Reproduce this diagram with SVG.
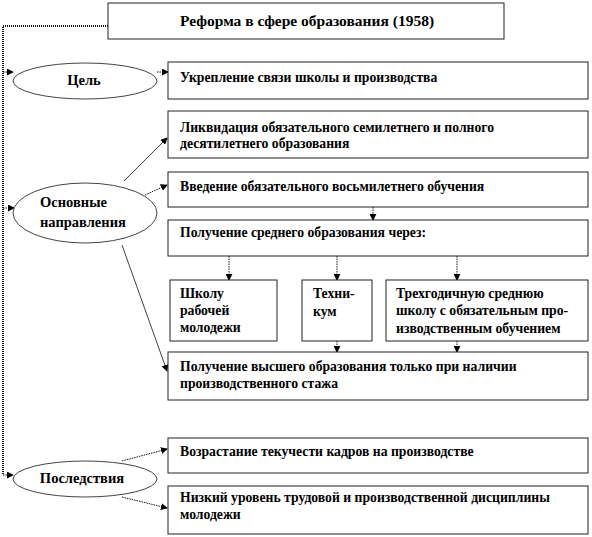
<svg xmlns="http://www.w3.org/2000/svg" width="592" height="537" viewBox="0 0 592 537">
<style>
.box{fill:#fff;stroke:#222;stroke-width:1}
.ell{fill:#fff;stroke:#444;stroke-width:1}
text{font-family:"Liberation Serif","Times New Roman",serif;font-weight:bold;font-size:13.7px;fill:#000}
.t{font-size:15.5px}
.e{font-size:14.5px}
.c{fill:none;stroke:#111;stroke-width:1;stroke-dasharray:1.5 1}
.s{fill:none;stroke:#111;stroke-width:0.8}
.v{fill:none;stroke:#111;stroke-width:2;stroke-dasharray:1 1}
</style>
<defs>
<marker id="a" viewBox="0 0 8 8" refX="7" refY="4" markerWidth="7" markerHeight="7" orient="auto" markerUnits="userSpaceOnUse">
<path d="M0,0 L8,4 L0,8 Z" fill="#000"/>
</marker>
</defs>
<g id="connectors">
<polyline class="v" points="108,26 3,26 3,475"/>
<line class="c" x1="3" y1="72" x2="13" y2="72" marker-end="url(#a)"/>
<line class="c" x1="3" y1="208" x2="14" y2="208" marker-end="url(#a)"/>
<line class="c" x1="3" y1="475" x2="13" y2="475" marker-end="url(#a)"/>
<line class="c" x1="157" y1="72" x2="168" y2="72" marker-end="url(#a)"/>
<line class="s" x1="124" y1="181" x2="167" y2="138" marker-end="url(#a)"/>
<line class="c" x1="145" y1="195" x2="167" y2="185" marker-end="url(#a)"/>
<line class="s" x1="122" y1="245" x2="167" y2="371" marker-end="url(#a)"/>
<line class="c" x1="373" y1="207" x2="373" y2="220" marker-end="url(#a)"/>
<line class="c" x1="229" y1="256" x2="229" y2="280" marker-end="url(#a)"/>
<line class="c" x1="337" y1="256" x2="337" y2="280" marker-end="url(#a)"/>
<line class="c" x1="457" y1="256" x2="457" y2="280" marker-end="url(#a)"/>
<line class="c" x1="337" y1="341" x2="337" y2="352" marker-end="url(#a)"/>
<line class="c" x1="457" y1="341" x2="457" y2="352" marker-end="url(#a)"/>
<line class="c" x1="122" y1="461" x2="167" y2="449" marker-end="url(#a)"/>
<line class="c" x1="122" y1="497" x2="167" y2="508" marker-end="url(#a)"/>
</g>
<g id="title">
<rect class="box" x="108" y="3" width="396" height="36"/>
<text class="t" x="307" y="26" text-anchor="middle">Реформа в сфере образования (1958)</text>
</g>
<g id="goal">
<ellipse class="ell" cx="85" cy="81" rx="72" ry="18"/>
<text class="e" x="84" y="85" text-anchor="middle">Цель</text>
</g>
<g id="directions">
<ellipse class="ell" cx="85" cy="213" rx="72" ry="30"/>
<text class="e" x="40" y="207">Основные</text>
<text class="e" x="40" y="227">направления</text>
</g>
<g id="consequences">
<ellipse class="ell" cx="85" cy="479" rx="72" ry="18"/>
<text class="e" x="82" y="483" text-anchor="middle">Последствия</text>
</g>
<g id="b-strengthen">
<rect class="box" x="168" y="62" width="420" height="37"/>
<text x="180" y="82">Укрепление связи школы и производства</text>
</g>
<g id="b-liquidation">
<rect class="box" x="168" y="111" width="420" height="47"/>
<text x="180" y="132">Ликвидация  обязательного семилетнего и полного</text>
<text x="180" y="148">десятилетнего образования</text>
</g>
<g id="b-eight">
<rect class="box" x="168" y="172" width="420" height="35"/>
<text x="180" y="191">Введение обязательного восьмилетнего обучения</text>
</g>
<g id="b-secondary">
<rect class="box" x="168" y="220" width="420" height="36"/>
<text x="180" y="237">Получение среднего образования через:</text>
</g>
<g id="b-school">
<rect class="box" x="170" y="280" width="107" height="61"/>
<text x="180" y="298">Школу</text>
<text x="180" y="315">рабочей</text>
<text x="180" y="332">молодежи</text>
</g>
<g id="b-technikum">
<rect class="box" x="302" y="280" width="70" height="61"/>
<text x="313" y="298">Техни-</text>
<text x="313" y="316">кум</text>
</g>
<g id="b-threeyear">
<rect class="box" x="386" y="280" width="202" height="61"/>
<text x="396" y="298">Трехгодичную  среднюю</text>
<text x="396" y="315">школу с обязательным про-</text>
<text x="396" y="333">изводственным обучением</text>
</g>
<g id="b-higher">
<rect class="box" x="168" y="352" width="420" height="48"/>
<text x="180" y="371">Получение высшего образования только при наличии</text>
<text x="180" y="388">производственного  стажа</text>
</g>
<g id="b-turnover">
<rect class="box" x="168" y="438" width="420" height="35"/>
<text x="180" y="456">Возрастание текучести кадров на производстве</text>
</g>
<g id="b-discipline">
<rect class="box" x="168" y="486" width="420" height="48"/>
<text x="180" y="502">Низкий уровень трудовой и производственной  дисциплины</text>
<text x="180" y="519">молодежи</text>
</g>
</svg>
